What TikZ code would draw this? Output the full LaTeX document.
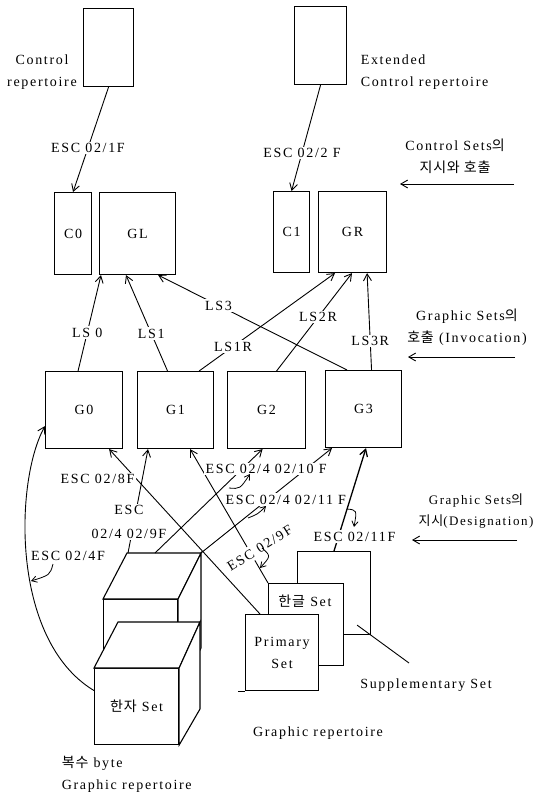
\documentclass[tikz,border=0pt]{standalone}
\usepackage{fontspec}
\setmainfont{Liberation Serif}[LetterSpace=12]
\newfontfamily\kor{Noto Sans CJK KR}[LetterSpace=6]
\usetikzlibrary{arrows.meta,positioning}

\begin{document}
\begin{tikzpicture}[x=1pt,y=-1pt,line width=0.9pt,
  every node/.style={font=\fontsize{14}{22}\selectfont},
  box/.style={draw,line width=1.1pt,fill=white,inner sep=0pt,anchor=north west,align=center},
  face/.style={draw,line width=1.1pt,fill=white},
  lbl/.style={fill=white,inner sep=1.5pt,align=center},
  note/.style={align=center},
  arr/.style={-{Straight Barb[length=2.4mm,width=2.8mm]}},
  curl/.style={line width=0.8pt,-{Straight Barb[length=1.8mm,width=2.2mm]}}]
  \useasboundingbox (0,0) rectangle (534,792);

  % control repertoires -> C0, C1
  \node[box,minimum width=50pt,minimum height=78pt] (crep) at (83,8) {};
  \node[box,minimum width=52pt,minimum height=78pt] (xrep) at (294,6) {};
  \node[note] (creplbl) at (42,72) {Control\\repertoire};
  \node[note,align=left,anchor=west] (xreplbl) at (357,72) {Extended\\Control repertoire};
  \node[box,minimum width=37pt,minimum height=82pt] (c0) at (54,192) {C0};
  \node[box,minimum width=76pt,minimum height=82pt] (gl) at (99,192) {GL};
  \node[box,minimum width=36pt,minimum height=81pt] (c1) at (273,191) {C1};
  \node[box,minimum width=68pt,minimum height=81pt] (gr) at (318,191) {GR};
  \draw[arr] (crep.south) -- node[lbl,pos=0.58] {ESC 02/1F} (c0.north);
  \draw[arr] (xrep.south) -- node[lbl,pos=0.64] {ESC 02/2 F} (c1.north);

  % G0-G3, invocation
  \node[box,minimum width=77pt,minimum height=77pt] (g0) at (45,371) {G0};
  \node[box,minimum width=76pt,minimum height=77pt] (g1) at (137,371) {G1};
  \node[box,minimum width=78pt,minimum height=77pt] (g2) at (227,371) {G2};
  \node[box,minimum width=76pt,minimum height=77pt] (g3) at (325,370) {G3};
  \draw[arr] ([xshift=-6pt]g0.north) -- node[lbl,pos=0.4] {LS 0} ([xshift=2pt]gl.south west);
  \draw[arr] ([xshift=-8pt]g1.north) -- node[lbl,pos=0.39] {LS1} ([xshift=27pt]gl.south west);
  \draw[arr] ([xshift=22pt]g3.north west) -- node[lbl,pos=0.68] {LS3} ([xshift=-18pt]gl.south east);
  \draw[arr] ([xshift=-15pt]g1.north east) -- node[lbl,pos=0.25] {LS1R} ([xshift=17pt]gr.south west);
  \draw[arr] ([xshift=10pt]g2.north) -- node[lbl,pos=0.55] {LS2R} ([xshift=34pt]gr.south west);
  \draw[arr] ([xshift=8pt]g3.north) -- node[lbl,pos=0.3] {LS3R} ([xshift=-20pt]gr.south east);

  % notes on the right
  \node[note] (ctlnote) at (455,156) {Control Sets{\kor 의}\\{\kor 지시와 호출}};
  \node[note] (invnote) at (467,327) {Graphic Sets{\kor 의}\\{\kor 호출} (Invocation)};
  \node[note,font=\fontsize{13}{21}\selectfont] (desnote) at (476,511) {Graphic Sets{\kor 의}\\{\kor 지시}(Designation)};
  \coordinate (ctlfrom) at (514,184); \coordinate (ctlto) at (400,184);
  \coordinate (invfrom) at (515,357); \coordinate (invto) at (408,357);
  \coordinate (desfrom) at (517,540); \coordinate (desto) at (412,540);
  \draw[arr] (ctlfrom) -- (ctlto);
  \draw[arr] (invfrom) -- (invto);
  \draw[arr] (desfrom) -- (desto);

  % graphic repertoire sets
  \node[box,minimum width=73pt,minimum height=83pt] (supp) at (297,551) {};
  \node[box,minimum width=75pt,minimum height=82pt] (hg) at (268,583) {};
  \node (hglbl) at (305,601) {{\kor 한글} Set};
  \node[box,minimum width=73pt,minimum height=76pt] (prim) at (245,614) {Primary\\Set};
  \draw ([xshift=-7pt]prim.south west) -- (prim.south west);
  \coordinate (suppend) at (409,663);
  \draw ([shift={(-14pt,10pt)}]supp.south east) -- (suppend);
  \node (supplbl) at (426,685) {Supplementary Set};
  \node (grlbl) at (318,733) {Graphic repertoire};

  % multi-byte sets (cubes)
  \node[box,minimum width=74pt,minimum height=95pt] (kb) at (103,599) {};
  \draw[face] (kb.north west) -- ++(24,-46) coordinate (kbbl) -- ++(74,0) coordinate (kbbr) -- (kb.north east) -- cycle;
  \draw[face] (kb.north east) -- (kbbr) -- ++(0,95) -- (kb.south east) -- cycle;
  \node[box,minimum width=84pt,minimum height=76pt] (hz) at (94,668) {{\kor 한자} Set};
  \draw[face] (hz.north west) -- ++(24,-46) -- ++(82,0) coordinate (hzbr) -- (hz.north east) -- cycle;
  \draw[face] (hz.north east) -- (hzbr) -- ++(0,87) -- (hz.south east) -- cycle;
  \node[note,align=left,anchor=west] (mblbl) at (58,774) {{\kor 복수} byte\\Graphic repertoire};

  % designation
  \draw[arr] ([yshift=16pt]hz.west) .. controls (10,640) and (15,480) .. ([yshift=-16pt]g0.west);
  \node (l4f) at (68,556) {ESC 02/4F};
  \draw[curl] (53,564) .. controls (50,575) .. (31,581);
  \draw[arr] (kbbr) -- node[lbl,pos=0.51,xshift=18pt] (l411) {ESC 02/4 02/11 F} ([xshift=7pt]g3.south west);
  \draw[curl] (248,518) .. controls (258,514) .. (266,506);
  \draw[arr] (hg.north west) -- node[lbl,inner sep=3pt,pos=0.26,xshift=12pt,rotate=32] (l9f) {ESC 02/9F} ([xshift=-24pt]g1.south east);
  \draw[curl] (262,548) .. controls (271,556) .. (260,568);
  \draw[arr] ([xshift=1pt]kbbl) -- node[lbl,pos=0.3,xshift=-5pt,font=\fontsize{14}{24}\selectfont] (l49) {ESC\\02/4 02/9F} ([xshift=11pt]g1.south west);
  \draw[arr] ([xshift=15pt]prim.north west) -- node[lbl,pos=0.82,anchor=east] (l8f) {ESC 02/8F} ([xshift=-14pt]g0.south east);
  \draw[arr] ([xshift=28pt]kbbl) -- node[lbl,pos=0.81,xshift=24pt] (l410) {ESC 02/4 02/10 F} ([xshift=-4pt]g2.south);
  \draw[curl] (229,488) .. controls (240,489) .. (250,474);
  \draw[arr,line width=1.3pt] ([xshift=37pt]supp.north west) -- node[lbl,pos=0.14,xshift=16pt] (l11f) {ESC 02/11F} ([xshift=41pt]g3.south west);
  \draw[curl] (347,509) .. controls (357,510) .. (354,527);
\end{tikzpicture}
\end{document}
